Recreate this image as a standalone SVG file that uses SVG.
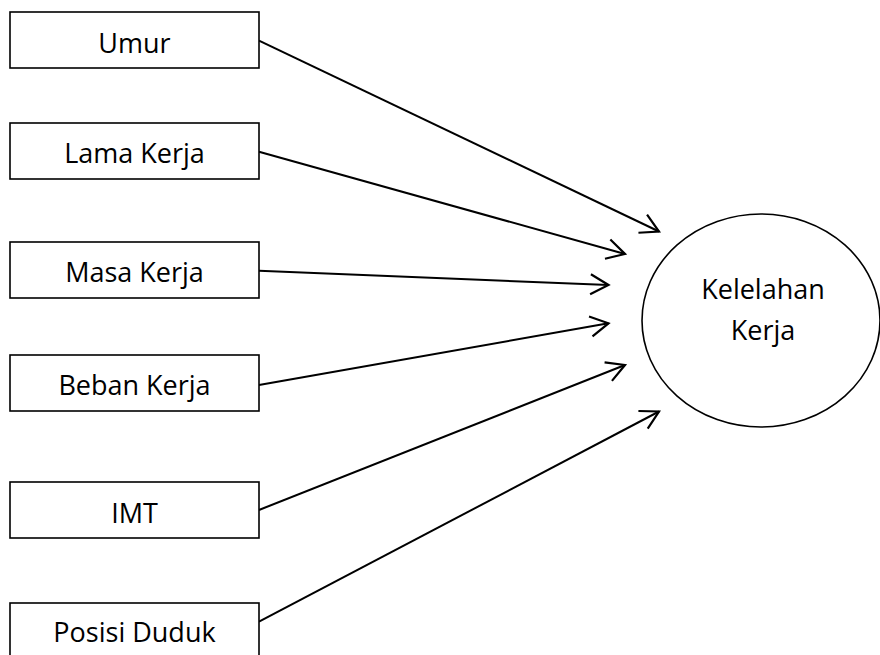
<svg xmlns="http://www.w3.org/2000/svg" width="880" height="655" viewBox="0 0 880 655">
<style>
.box{fill:#fff;stroke:#000;stroke-width:1.6}
.lbl{font-family:"Open Sans","Noto Sans",sans-serif;font-size:27px;fill:#000;text-anchor:middle}
.con{stroke:#000;stroke-width:2;fill:none;marker-end:url(#arr)}
</style>
<defs>
<marker id="arr" markerUnits="userSpaceOnUse" viewBox="-22 -13 26 26" markerWidth="26" markerHeight="26" refX="0" refY="0" orient="auto" overflow="visible">
<path d="M-18,-10 L0,0 L-18,10" fill="none" stroke="#000" stroke-width="2.2" stroke-linejoin="miter"/>
</marker>
</defs>
<rect width="880" height="655" fill="#fff"/>
<g id="connectors">
<line class="con" x1="259" y1="40.7" x2="659" y2="231.5"/>
<line class="con" x1="259" y1="151.7" x2="625" y2="254"/>
<line class="con" x1="259" y1="270.7" x2="608.5" y2="285"/>
<line class="con" x1="259" y1="385" x2="608.5" y2="323.3"/>
<line class="con" x1="259" y1="510" x2="625" y2="365"/>
<line class="con" x1="259" y1="621.7" x2="659" y2="411.5"/>
</g>
<g id="umur"><rect class="box" x="10" y="12" width="249" height="56"/><text class="lbl" x="134.5" y="53.3">Umur</text></g>
<g id="lama-kerja"><rect class="box" x="10" y="123" width="249" height="56"/><text class="lbl" x="134.5" y="163.3">Lama Kerja</text></g>
<g id="masa-kerja"><rect class="box" x="10" y="242" width="249" height="56"/><text class="lbl" x="134.5" y="281.7">Masa Kerja</text></g>
<g id="beban-kerja"><rect class="box" x="10" y="355" width="249" height="56"/><text class="lbl" x="134.5" y="395">Beban Kerja</text></g>
<g id="imt"><rect class="box" x="10" y="482" width="249" height="56"/><text class="lbl" x="134.5" y="523">IMT</text></g>
<g id="posisi-duduk"><rect class="box" x="10" y="603" width="249" height="58"/><text class="lbl" x="134.5" y="642">Posisi Duduk</text></g>
<g id="kelelahan-kerja"><ellipse cx="761" cy="320.5" rx="119" ry="106.5" fill="#fff" stroke="#000" stroke-width="1.6"/><text class="lbl" x="763" y="299.3">Kelelahan</text><text class="lbl" x="763" y="340">Kerja</text></g>
</svg>
